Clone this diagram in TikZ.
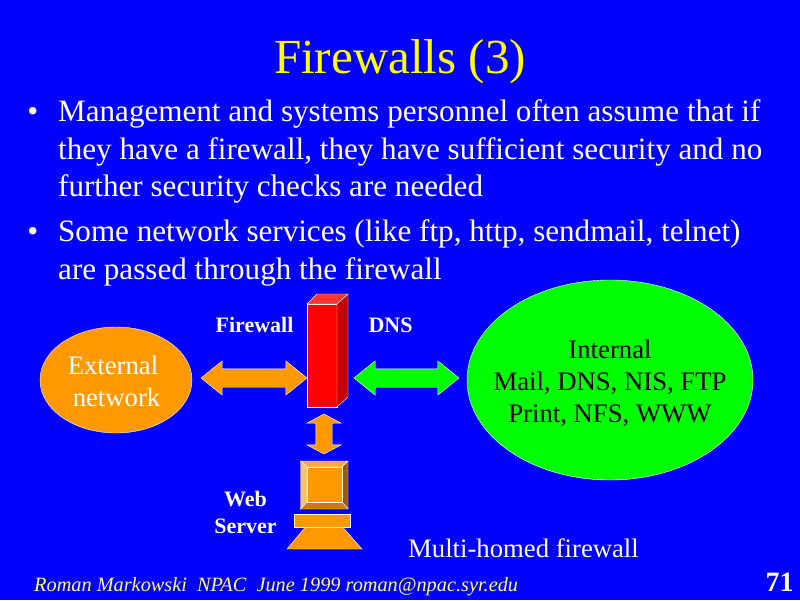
\documentclass[tikz,border=0pt]{standalone}
\usepackage{fontspec}
\setmainfont{Liberation Serif}
\usetikzlibrary{shapes.arrows,shapes.geometric}
\definecolor{slideblue}{RGB}{0,0,255}
\definecolor{boxorange}{RGB}{255,153,0}
\definecolor{cloudgreen}{RGB}{0,255,0}
\definecolor{titleyellow}{RGB}{255,255,0}
\tikzset{
    cloud/.style={
           ellipse,
           draw=white,
           inner sep=0pt},
    cloudtext/.style={
           align=center,
           font=\fontsize{26.7}{32}\selectfont},
    pil/.style={
           double arrow,
           draw=white,
           inner sep=9pt,
           minimum width=34pt,
           double arrow head extend=8pt,
           double arrow tip angle=78},
    etikett/.style={
           text=white,
           align=center,
           font=\fontsize{22}{27}\selectfont\bfseries},
    punkt/.style={
           text=white,
           anchor=north west,
           align=left,
           inner sep=0pt,
           font=\fontsize{31.1}{37.5}\selectfont}
}
\begin{document}
\begin{tikzpicture}[x=1pt,y=-1pt]
        \fill[slideblue] (0,0) rectangle (800,600);
        \useasboundingbox (0,0) rectangle (800,600);

        \node[text=titleyellow, font=\fontsize{49}{50}\selectfont] (title) at (400,62) {Firewalls (3)};
        \node[punkt] (bullet1) at (58,99.5) {\llap{\textbullet\hspace{20pt}}Management and systems personnel often assume that if\\
                they have a firewall, they have sufficient security and no\\
                further security checks are needed};
        \node[punkt] (bullet2) at (58,219.5) {\llap{\textbullet\hspace{20pt}}Some network services (like ftp, http, sendmail, telnet)\\
                are passed through the firewall};

        \node[cloud, fill=boxorange, minimum width=152pt, minimum height=106pt] (external) at (116,380) {};
        \node[cloudtext, text=white] (exttext) at (113,381) {External\\\hspace*{7pt}network};
        \node[cloud, fill=cloudgreen, minimum width=286pt, minimum height=200pt] (internal) at (610,380) {};
        \node[cloudtext, text=black] (inttext) at (610,383) {Internal\\Mail, DNS, NIS, FTP\\Print, NFS, WWW};

        \node[pil, fill=boxorange, minimum height=106pt] (extpil) at (254,378) {};
        \node[pil, fill=cloudgreen, minimum height=105pt] (intpil) at (406.5,378) {};
        \node[pil, fill=boxorange, inner sep=8pt, double arrow head extend=9pt, minimum height=40pt, shape border rotate=90, double arrow tip angle=124] (webpil) at (324,434) {};

        % firewall box
        \coordinate (f1) at (307,304);
        \coordinate (f2) at (337,304);
        \coordinate (f3) at (337,407);
        \coordinate (f4) at (307,407);
        \coordinate (f5) at (317,294);
        \coordinate (f6) at (348,294);
        \coordinate (f7) at (348,397);
        \filldraw[draw=white, fill=red] (f1) -- (f2) -- (f3) -- (f4) -- cycle;
        \filldraw[draw=white, fill=red!80!white] (f1) -- (f5) -- (f6) -- (f2) -- cycle;
        \filldraw[draw=white, fill=red!78!black] (f2) -- (f6) -- (f7) -- (f3) -- cycle;

        % web server
        \coordinate (m1) at (300.5,461);
        \coordinate (m2) at (348,461);
        \coordinate (m3) at (348,509);
        \coordinate (m4) at (300.5,509);
        \coordinate (i1) at (307,467);
        \coordinate (i2) at (342,467);
        \coordinate (i3) at (342,502);
        \coordinate (i4) at (307,502);
        \filldraw[draw=white, fill=boxorange!80!white] (m1) -- (m2) -- (i2) -- (i1) -- cycle;
        \filldraw[draw=white, fill=boxorange!60!black] (m2) -- (m3) -- (i3) -- (i2) -- cycle;
        \filldraw[draw=white, fill=boxorange!80!black] (m3) -- (m4) -- (i4) -- (i3) -- cycle;
        \filldraw[draw=white, fill=boxorange!60!white] (m4) -- (m1) -- (i1) -- (i4) -- cycle;
        \filldraw[draw=white, fill=boxorange] (i1) rectangle (i3);
        \filldraw[draw=white, fill=boxorange] (294,514.5) rectangle (350,527.5);
        \filldraw[draw=white, fill=boxorange] (305,527.5) -- (343,527.5) -- (362,549) -- (287,549) -- cycle;

        \node[etikett] (fwlabel) at (254.5,325) {Firewall};
        \node[etikett] (dnslabel) at (390.5,325) {DNS};
        \node[etikett] (weblabel) at (245.5,512) {Web\\Server};

        \node[text=white, font=\fontsize{26.7}{30}\selectfont] (caption) at (523.5,548) {Multi-homed firewall};
        \node[text=titleyellow!60!white, inner sep=0pt, font=\fontsize{20.3}{24}\selectfont\itshape, anchor=west] (footer) at (34,587) {Roman Markowski\ \ NPAC\ \ June 1999 roman@npac.syr.edu};
        \node[text=white, font=\fontsize{28}{30}\selectfont\bfseries] (pagenr) at (779.5,582) {71};
    \end{tikzpicture}
\end{document}
